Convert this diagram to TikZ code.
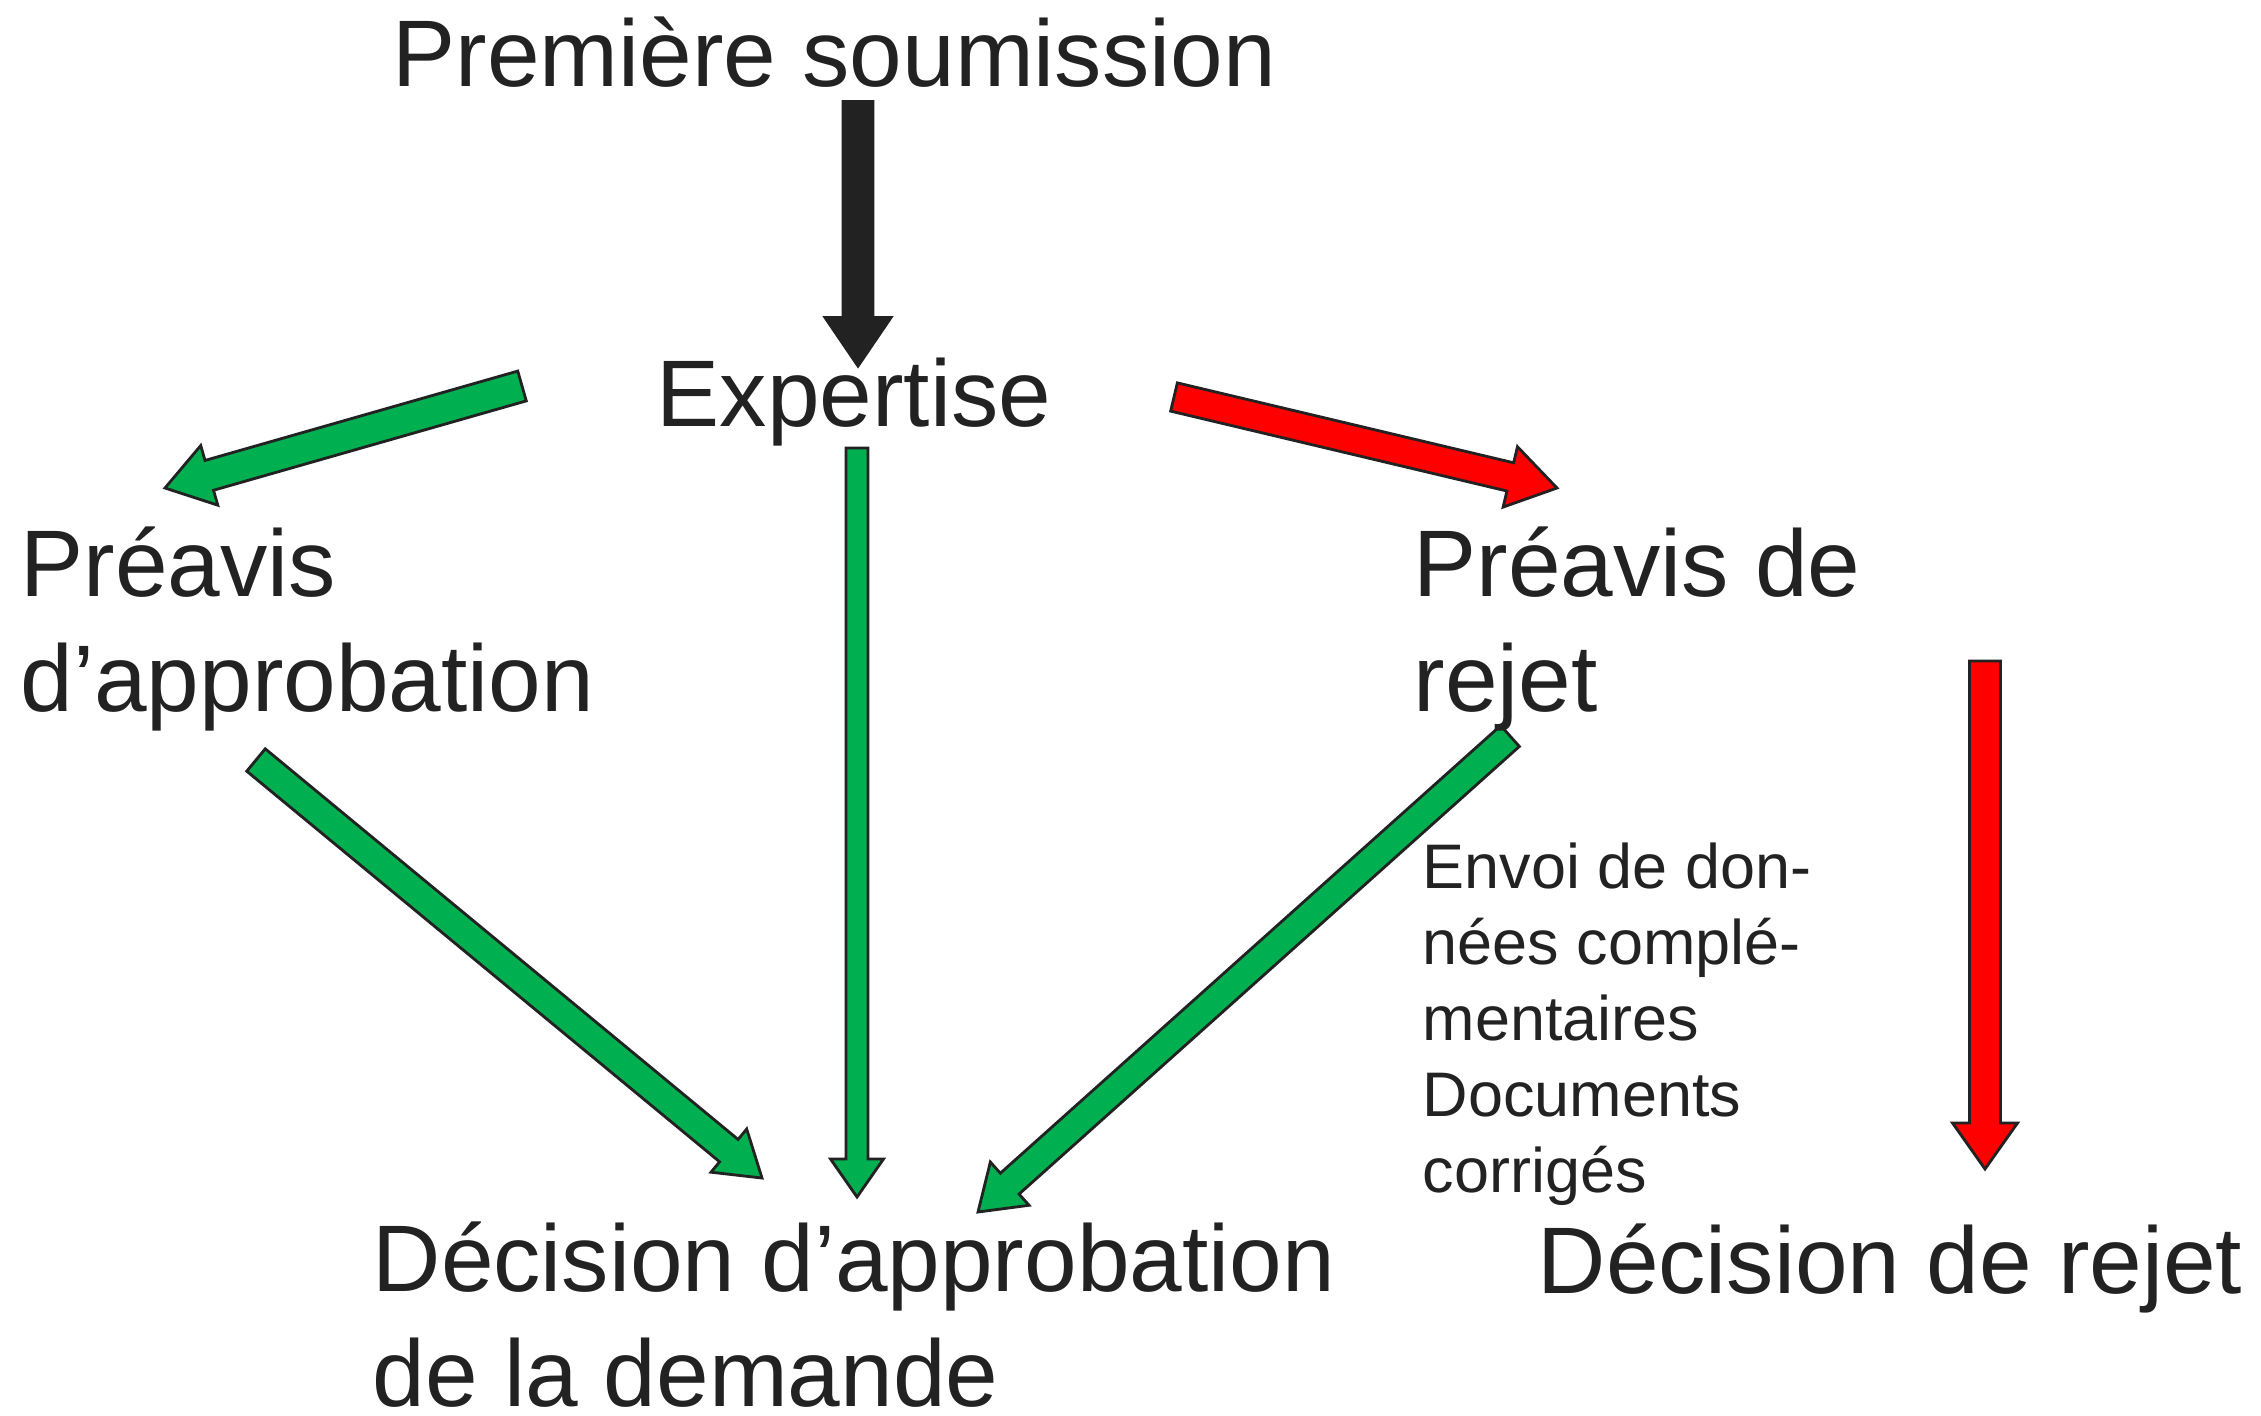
\documentclass[tikz,border=0pt]{standalone}
\usepackage{fontspec}
\setmainfont{Liberation Sans}
\usetikzlibrary{calc}
\definecolor{ink}{HTML}{222222}
\definecolor{grn}{HTML}{00B050}
\definecolor{rd}{HTML}{FF0000}
\definecolor{blk}{HTML}{222222}
\tikzset{
  bigtxt/.style={font=\fontsize{26.9pt}{32.6pt}\selectfont, text=ink, inner sep=0pt, anchor=base west, align=left},
  smalltxt/.style={font=\fontsize{17.9pt}{21.6pt}\selectfont, text=ink, inner sep=0pt, anchor=base west, align=left},
  garrow/.style={fill=grn, draw=ink, line width=0.8pt, line join=miter},
  rarrow/.style={fill=rd, draw=ink, line width=0.8pt, line join=miter},
  karrow/.style={fill=blk, draw=blk, line width=0.5pt, line join=miter},
}
\newcommand\blockarr[6]{%
  \path ($(#2)!#5!(#1)$) coordinate (hb);
  \draw[#6] ($(#1)!#3!90:(#2)$) -- ($(hb)!#3!90:(#2)$) -- ($(hb)!#4!90:(#2)$) -- (#2)
    -- ($(hb)!#4!-90:(#2)$) -- ($(hb)!#3!-90:(#2)$) -- ($(#1)!#3!-90:(#2)$) -- cycle;
}
\begin{document}
\begin{tikzpicture}[x=0.01cm, y=-0.01cm]
\useasboundingbox (0,0) rectangle (2261,1415);
% arrow end points
\coordinate (k1) at (858,101);   \coordinate (k2) at (858,367);
\coordinate (gl1) at (522,386);  \coordinate (gl2) at (165,488);
\coordinate (rr1) at (1174,397); \coordinate (rr2) at (1557,488);
\coordinate (rv1) at (1985,661); \coordinate (rv2) at (1985,1169);
\coordinate (gd1) at (256,760);  \coordinate (gd2) at (762,1178);
\coordinate (gm1) at (857,448);  \coordinate (gm2) at (857,1197);
\coordinate (gr1) at (1510,736); \coordinate (gr2) at (978,1212);
% arrows
\blockarr{k1}{k2}{0.155cm}{0.34cm}{0.5cm}{karrow}
\blockarr{gl1}{gl2}{0.155cm}{0.31cm}{0.46cm}{garrow}
\blockarr{rr1}{rr2}{0.145cm}{0.31cm}{0.48cm}{rarrow}
\blockarr{rv1}{rv2}{0.155cm}{0.325cm}{0.46cm}{rarrow}
\blockarr{gd1}{gd2}{0.145cm}{0.28cm}{0.43cm}{garrow}
\blockarr{gm1}{gm2}{0.11cm}{0.265cm}{0.38cm}{garrow}
\blockarr{gr1}{gr2}{0.14cm}{0.29cm}{0.425cm}{garrow}
% texts (multi-line nodes: base = baseline of last line)
\node[bigtxt] (prem) at (392,87) {Première soumission};
\node[bigtxt] (exp) at (656,426) {Expertise};
\node[bigtxt] (pa) at (20,711) {Préavis\\d’approbation};
\node[bigtxt] (pr) at (1413,711) {Préavis de\\rejet};
\node[bigtxt] (da) at (372,1406) {Décision d’approbation\\de la demande};
\node[bigtxt] (dr) at (1537,1293) {Décision de rejet};
\node[smalltxt] (env) at (1422,1192) {Envoi de don-\\nées complé-\\mentaires\\Documents\\corrigés};
\end{tikzpicture}
\end{document}
